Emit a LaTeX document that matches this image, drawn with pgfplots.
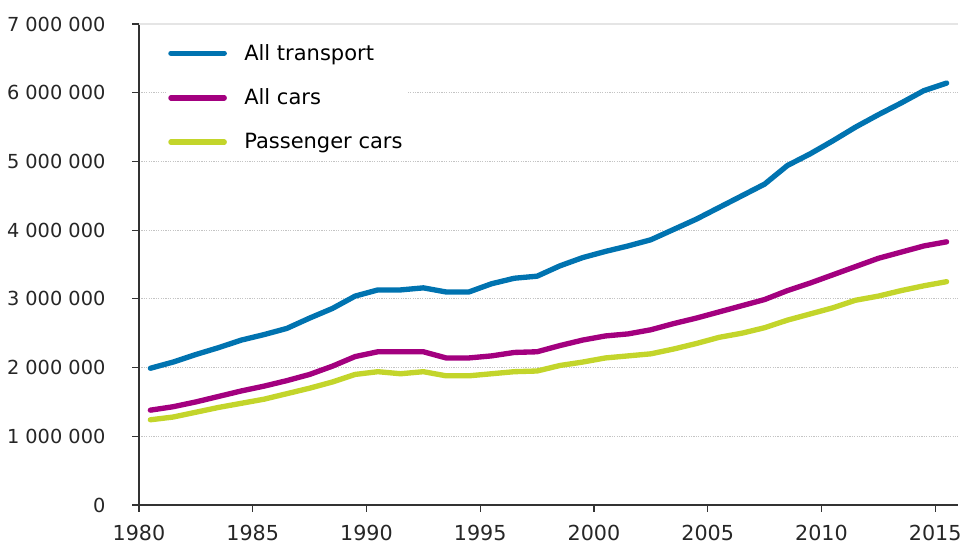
\documentclass[border=0pt]{standalone}
\usepackage{fontspec}
\setmainfont{DejaVu Sans}
\usepackage{pgfplots}
\usepackage{pgfplotstable}
\pgfplotsset{compat=1.18}

\definecolor{sfblue}{HTML}{0073B0}
\definecolor{sfmagenta}{HTML}{A3007F}
\definecolor{sfgreen}{HTML}{C3D52B}
\definecolor{gridgray}{HTML}{C4C4C4}

% vehicles, millions; year, all transport, all cars, passenger cars
\pgfplotstableread{
year  alltr  cars  pcars
1980  1.99  1.38  1.24
1981  2.08  1.43  1.28
1982  2.19  1.50  1.35
1983  2.29  1.58  1.42
1984  2.40  1.66  1.48
1985  2.48  1.73  1.54
1986  2.57  1.81  1.62
1987  2.72  1.90  1.70
1988  2.86  2.02  1.79
1989  3.04  2.16  1.90
1990  3.13  2.23  1.94
1991  3.13  2.23  1.91
1992  3.16  2.23  1.94
1993  3.10  2.14  1.88
1994  3.10  2.14  1.88
1995  3.22  2.17  1.91
1996  3.30  2.22  1.94
1997  3.33  2.23  1.95
1998  3.48  2.32  2.03
1999  3.60  2.40  2.08
2000  3.69  2.46  2.14
2001  3.77  2.49  2.17
2002  3.86  2.55  2.20
2003  4.01  2.64  2.27
2004  4.16  2.72  2.35
2005  4.33  2.81  2.44
2006  4.50  2.90  2.50
2007  4.67  2.99  2.58
2008  4.94  3.12  2.69
2009  5.11  3.23  2.78
2010  5.30  3.35  2.87
2011  5.50  3.47  2.98
2012  5.68  3.59  3.04
2013  5.85  3.68  3.12
2014  6.03  3.77  3.19
2015  6.14  3.83  3.25
}\vehicles

\begin{document}
\begin{tikzpicture}
\begin{axis}[
    scale only axis,
    width=614.25pt, height=360.75pt,
    xmin=1980, xmax=2016,
    ymin=0, ymax=7000000,
    axis lines=left,
    axis line style={black!80, line width=0.9pt, -},
    xtick={1980,1985,...,2015},
    ytick={0,1000000,...,7000000},
    tick align=outside,
    major tick length=5pt,
    tick style={black!80, line width=0.9pt},
    ymajorgrids=true,
    major grid style={gridgray, line width=0.7pt, dash pattern=on 0.9pt off 0.9pt},
    scaled y ticks=false,
    /pgf/number format/assume math mode=true,
    yticklabel style={/pgf/number format/fixed, /pgf/number format/precision=0,
        /pgf/number format/1000 sep={\ },
        font=\fontsize{14.5}{16}\selectfont, text=black!85, anchor=east, inner sep=0pt, xshift=-20pt},
    xticklabel style={/pgf/number format/1000 sep={},
        font=\fontsize{15.5}{17}\selectfont, text=black!85, anchor=north, inner sep=0pt, yshift=-10pt},
    legend style={draw=none, fill=white, at={(axis description cs:0,1)}, anchor=north west,
        xshift=19.75pt, yshift=-11pt, font=\fontsize{15.75}{18}\selectfont, row sep=16pt,
        inner sep=2pt, /tikz/every odd column/.append style={column sep=11pt}},
    legend cell align=left,
    legend image code/.code={\draw[#1, line cap=round] (0pt,0pt) -- (40pt,0pt);},
    every axis plot/.append style={line width=4pt, line join=round, line cap=round},
    clip=false,
]
\draw[black!10, line width=1.2pt] (rel axis cs:0,1) -- (rel axis cs:1,1);
\addplot[sfblue] table[x expr=\thisrow{year}+0.5, y expr=\thisrow{alltr}*1000000] {\vehicles};
\addplot[sfmagenta] table[x expr=\thisrow{year}+0.5, y expr=\thisrow{cars}*1000000] {\vehicles};
\addplot[sfgreen] table[x expr=\thisrow{year}+0.5, y expr=\thisrow{pcars}*1000000] {\vehicles};
\legend{All transport, All cars, Passenger cars}
\end{axis}
\path (-104.25pt,-30pt) rectangle (627.75pt,378.75pt);
\end{tikzpicture}
\end{document}
